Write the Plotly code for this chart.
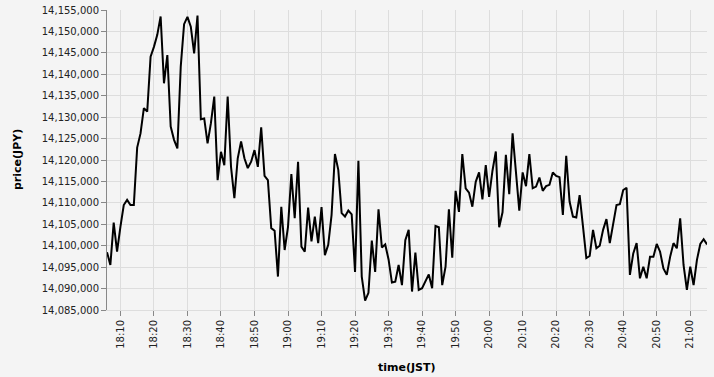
import pandas as pd
import plotly.graph_objects as go

start_time = "2024-01-01 18:06"
prices = [
    14098500, 14095500, 14105400, 14098600, 14104400, 14109500, 14110700, 14109500, 14109500, 14122900,
    14126200, 14132100, 14131300, 14144100, 14146400, 14149200, 14153500, 14137900, 14144500, 14127800,
    14124700, 14122700, 14141800, 14151700, 14153400, 14151100, 14144900, 14153700, 14129500, 14129700,
    14123900, 14128600, 14134800, 14115300, 14121900, 14118800, 14134800, 14118400, 14111100, 14120400,
    14124300, 14120400, 14118100, 14119600, 14122300, 14118400, 14127600, 14116300, 14115300, 14104100,
    14103500, 14092800, 14109100, 14099000, 14104400, 14116700, 14106400, 14119600, 14099800, 14098600,
    14108900, 14101000, 14106800, 14100600, 14109000, 14097800, 14100200, 14107200, 14121400, 14117700,
    14107600, 14106800, 14108200, 14107300, 14093900, 14119800, 14092800, 14087200, 14089000, 14101200,
    14093900, 14108500, 14099600, 14100300, 14096800, 14091400, 14091600, 14095500, 14090800, 14101300,
    14103700, 14089300, 14098400, 14089700, 14090100, 14091600, 14093300, 14090100, 14104600, 14104300,
    14090800, 14095100, 14108500, 14097200, 14112800, 14107900, 14121400, 14113400, 14112400, 14109100,
    14114900, 14117100, 14110800, 14118800, 14111400, 14117500, 14122000, 14104300, 14107800, 14121200,
    14112000, 14126200, 14116700, 14108200, 14117100, 14113900, 14121400, 14113400, 14113800, 14115900,
    14112800, 14113900, 14114200, 14117100, 14116300, 14116000, 14107200, 14121000, 14110300, 14106800,
    14106600, 14111800, 14104500, 14097100, 14097600, 14103700, 14099400, 14100000, 14103700, 14106200,
    14100600, 14105200, 14109500, 14109700, 14113000, 14113500, 14093200, 14098200, 14100600, 14092400,
    14095100, 14092400, 14097400, 14097400, 14100400, 14098600, 14094700, 14093200, 14097400, 14100600,
    14099400, 14106400, 14095500, 14089700, 14095100, 14090800, 14096700, 14100400, 14101500, 14100300,
]
times = pd.date_range(start=start_time, periods=len(prices), freq="1min")

y_range = [14085000, 14155000]
x_title = "time(JST)"
y_title = "price(JPY)"

bg = "#f4f4f4"
grid = "#dddddd"
axis_col = "#888888"
font_family = "DejaVu Sans, Verdana, sans-serif"

W, H = 714, 377
ML, MR, MT, MB = 107, 7, 10, 67
PW, PH = W - ML - MR, H - MT - MB

fig = go.Figure(
    go.Scatter(
        x=times, y=prices, mode="lines",
        line=dict(color="#000000", width=2),
        hoverinfo="x+y",
    )
)

fig.update_layout(
    width=W, height=H,
    margin=dict(l=ML, r=MR, t=MT, b=MB, autoexpand=False),
    paper_bgcolor=bg, plot_bgcolor=bg,
    font=dict(family=font_family, size=10, color="#222222"),
    showlegend=False,
    annotations=[
        dict(text=f"<b>{y_title}</b>", xref="paper", yref="paper",
             x=(17 - ML) / PW, y=0.5, xanchor="center", yanchor="middle",
             textangle=-90, showarrow=False,
             font=dict(size=11, color="#000000")),
        dict(text=f"<b>{x_title}</b>", xref="paper", yref="paper",
             x=0.5, y=-(367 - (MT + PH)) / PH, xanchor="center", yanchor="middle",
             showarrow=False,
             font=dict(size=11, color="#000000")),
    ],
)

fig.update_xaxes(
    range=[times[0], times[-1]],
    tickformat="%H:%M", dtick=600000, tick0="2024-01-01 18:10",
    tickangle=-90, automargin=False,
    ticks="outside", ticklen=5, tickcolor=axis_col, tickwidth=1,
    showgrid=True, gridcolor=grid, gridwidth=1,
    showline=True, linecolor=grid, linewidth=1,
    zeroline=False,
)
fig.update_yaxes(
    range=y_range, dtick=5000, tickformat=",d", automargin=False,
    ticklabeloverflow="allow",
    ticks="outside", ticklen=5, tickcolor=axis_col, tickwidth=1,
    showgrid=True, gridcolor=grid, gridwidth=1,
    showline=True, linecolor=axis_col, linewidth=1,
    zeroline=False,
)

fig.write_html(
    "out.html",
    config={"displayModeBar": False},
    post_script="document.body.style.margin='0';document.body.style.padding='0';",
)
